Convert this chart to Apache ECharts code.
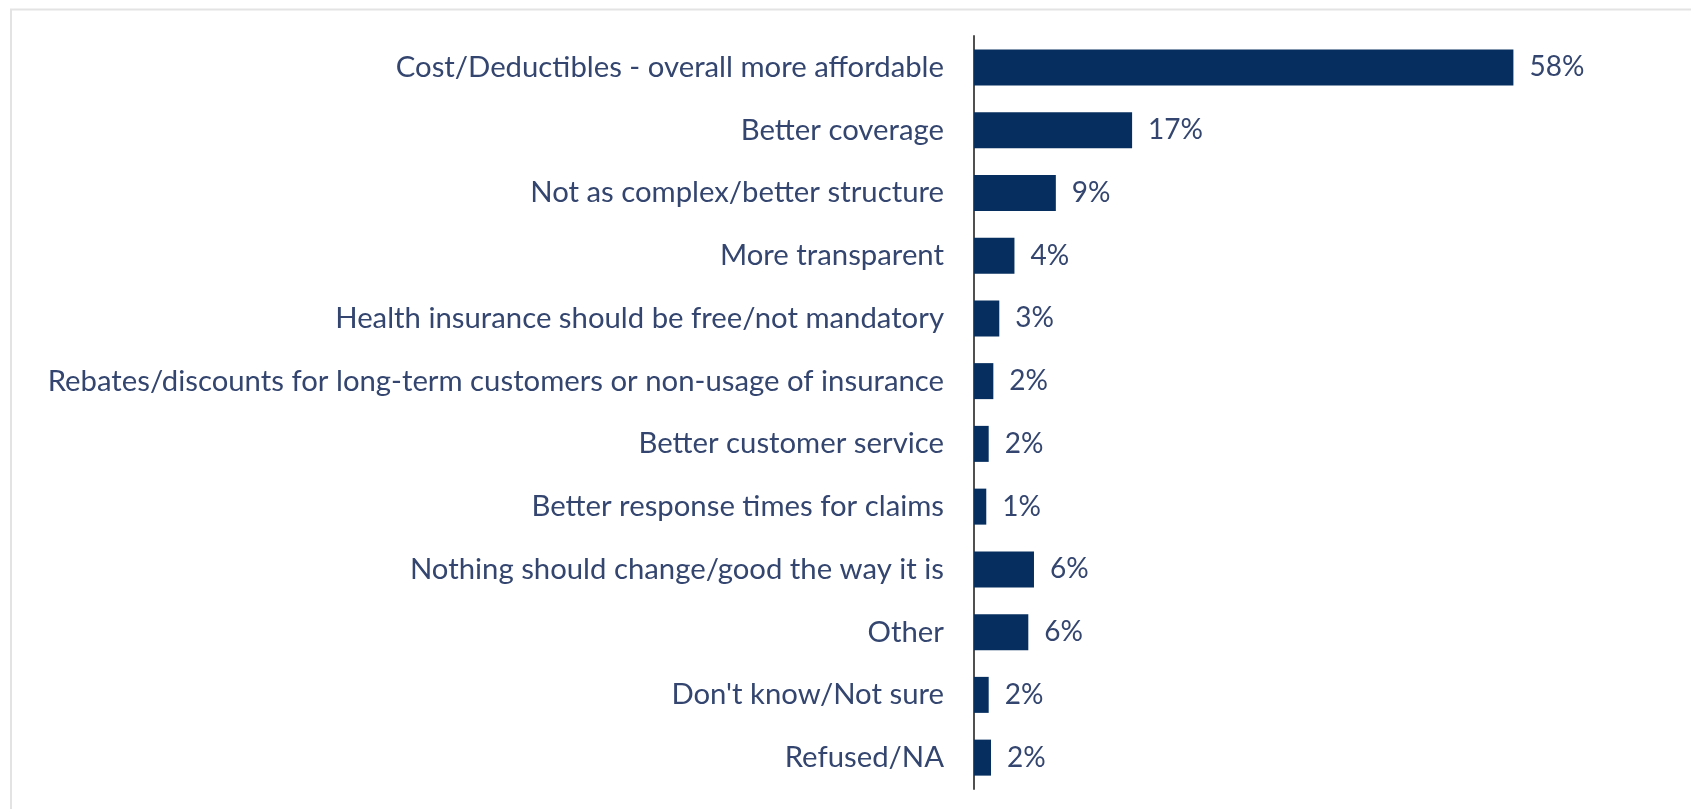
<!DOCTYPE html>
<html>
<head>
<meta charset="utf-8">
<title>Suggested improvements to health insurance</title>
<script src="https://cdn.jsdelivr.net/npm/echarts@6/dist/echarts.min.js"></script>
<style>
  html, body { margin: 0; padding: 0; background: #ffffff; }
  #chart { width: 1691px; height: 809px; }
</style>
</head>
<body>
<div id="chart"></div>
<script>
// Response categories, top to bottom
const categories = [
  'Cost/Deductibles - overall more affordable',
  'Better coverage',
  'Not as complex/better structure',
  'More transparent',
  'Health insurance should be free/not mandatory',
  'Rebates/discounts for long-term customers or non-usage of insurance',
  'Better customer service',
  'Better response times for claims',
  'Nothing should change/good the way it is',
  'Other',
  "Don't know/Not sure",
  'Refused/NA'
];

// Share of respondents (%), labels show whole percents
const shares = [58, 17.0, 8.8, 4.35, 2.72, 2.08, 1.58, 1.32, 6.45, 5.84, 1.58, 1.83];

const textColor = '#34466f';
const barColor = '#062f5f';
const fontFamily = 'Lato, "Open Sans", sans-serif';

const chart = echarts.init(document.getElementById('chart'), null, { renderer: 'canvas' });

chart.setOption({
  backgroundColor: '#ffffff',
  animation: false,
  graphic: [
    // light frame around the chart area
    { type: 'line', shape: { x1: 10, y1: 9.5, x2: 1691, y2: 9.5 },
      style: { stroke: '#e3e3e3', lineWidth: 2 }, silent: true },
    { type: 'line', shape: { x1: 11, y1: 9, x2: 11, y2: 809 },
      style: { stroke: '#e3e3e3', lineWidth: 2 }, silent: true }
  ],
  grid: { left: 974, right: 66, top: 36, bottom: 20, containLabel: false },
  xAxis: {
    type: 'value',
    min: 0,
    max: 70,
    show: false
  },
  yAxis: {
    type: 'category',
    data: categories,
    inverse: true,
    axisLine: { show: true, lineStyle: { color: '#505050', width: 2 } },
    axisTick: { show: false },
    axisLabel: {
      color: textColor,
      fontFamily: fontFamily,
      fontSize: 29.3,
      margin: 30
    }
  },
  series: [{
    type: 'bar',
    data: shares,
    barWidth: 36,
    itemStyle: { color: barColor },
    label: {
      show: true,
      position: 'right',
      distance: 16,
      color: textColor,
      fontFamily: fontFamily,
      fontSize: 28,
      formatter: p => Math.round(p.value) + '%'
    }
  }]
});
</script>
</body>
</html>
